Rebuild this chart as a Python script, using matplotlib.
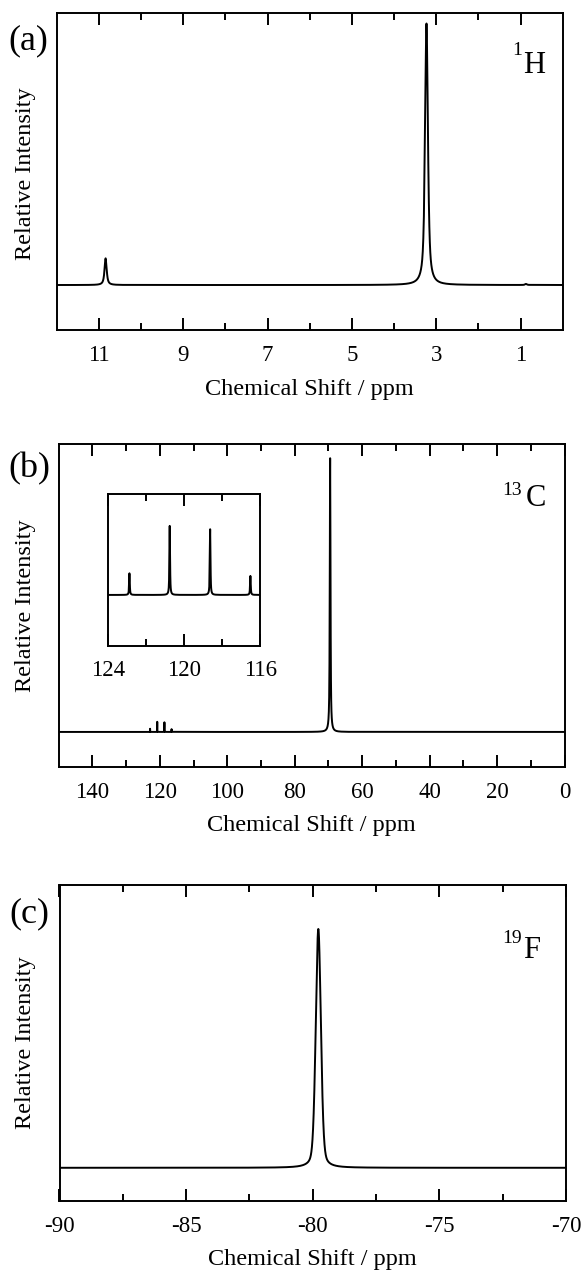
import numpy as np
import matplotlib
matplotlib.use('Agg')
import matplotlib.pyplot as plt

plt.rcParams['font.family'] = ['Liberation Serif', 'DejaVu Serif']

# ---------------- data ----------------
# 1H spectrum: peak positions (ppm), relative heights, line widths (ppm), Lorentzian fraction
h_pos = [10.84, 3.23, 0.87]
h_height = [0.102, 1.0, 0.004]
h_fwhm = [0.06, 0.08, 0.05]
h_lfrac = [0.8, 0.7, 0.8]
h_xlim = (12, 0)
h_major = [11, 9, 7, 5, 3, 1]
h_minor = [10, 8, 6, 4, 2]

# 13C spectrum
c_pos = [122.88, 120.76, 118.63, 116.51, 69.5]
c_height = [0.0116, 0.037, 0.0352, 0.0102, 1.0]
c_fwhm = [0.04, 0.04, 0.04, 0.04, 0.25]
c_lfrac = [0.8, 0.8, 0.8, 0.8, 0.8]
c_xlim = (150, 0)
c_major = [140, 120, 100, 80, 60, 40, 20, 0]
c_minor = [130, 110, 90, 70, 50, 30, 10]
c_inset_xlim = (124, 116)
c_inset_major = [124, 120, 116]
c_inset_minor = [122, 118]

# 19F spectrum
f_pos = [-79.78]
f_height = [1.0]
f_fwhm = [0.24]
f_lfrac = [0.3]
f_xlim = (-90, -70)
f_major = [-90, -85, -80, -75, -70]
f_minor = [-87.5, -82.5, -77.5, -72.5]


def spectrum(x, pos, height, fwhm, lfrac):
    """Pseudo-Voigt line shapes built from the read peak parameters."""
    y = np.zeros_like(x)
    for p, h, w, eta in zip(pos, height, fwhm, lfrac):
        d = (x - p) / (w / 2.0)
        lor = 1.0 / (1.0 + d ** 2)
        gau = np.exp(-np.log(2.0) * d ** 2)
        y += h * (eta * lor + (1 - eta) * gau)
    return y


W, H = 586, 1271
fig = plt.figure(figsize=(W / 100, H / 100), dpi=100)


def ax_px(l, t, r, b):
    return fig.add_axes([l / W, 1 - b / H, (r - l) / W, (b - t) / H])


def style(ax, major, minor, xlim, ylim, pad=11):
    ax.set_xlim(*xlim)
    ax.set_ylim(*ylim)
    ax.set_xticks(major)
    ax.set_xticks(minor, minor=True)
    ax.set_yticks([])
    for s in ax.spines.values():
        s.set_linewidth(1.4)
    ax.tick_params(axis='x', which='both', direction='in', top=True, bottom=True,
                   width=1.4, labelsize=16.5, pad=pad)
    ax.tick_params(axis='x', which='major', length=8.6)
    ax.tick_params(axis='x', which='minor', length=5)
    ax.set_xticklabels([f"{v:g}" for v in major])


def ftext(x, y, s, **kw):
    fig.text(x / W, 1 - y / H, s, **kw)


LW = 1.4

# ---------------- panel (a) ----------------
xa = np.linspace(0, 12, 24001)
ya = spectrum(xa, h_pos, h_height, h_fwhm, h_lfrac)
axa = ax_px(56.7, 13.3, 562.7, 330)
axa.plot(xa, ya, color='black', lw=LW)
style(axa, h_major, h_minor, h_xlim, (-0.172, 1.039))

# ---------------- panel (b) ----------------
xb = np.linspace(0, 150, 150001)
yb = spectrum(xb, c_pos, c_height, c_fwhm, c_lfrac)
axb = ax_px(58.6, 444, 564.6, 766.7)
axb.plot(xb, yb, color='black', lw=LW)
style(axb, c_major, c_minor, c_xlim, (-0.127, 1.052))

axi = ax_px(108.2, 494, 260.1, 645.7)
axi.plot(xb, yb, color='black', lw=LW)
style(axi, c_inset_major, c_inset_minor, c_inset_xlim, (-0.0272, 0.0541), pad=10)

# ---------------- panel (c) ----------------
xc = np.linspace(-90, -70, 20001)
yc = spectrum(xc, f_pos, f_height, f_fwhm, f_lfrac)
axc = ax_px(59.5, 885, 566, 1201)
axc.plot(xc, yc, color='black', lw=LW)
style(axc, f_major, f_minor, f_xlim, (-0.139, 1.184))

# ---------------- text ----------------
ftext(28, 41, '(a)', fontsize=26, ha='center', va='center')
ftext(29.5, 469, '(b)', fontsize=26, ha='center', va='center')
ftext(29, 914, '(c)', fontsize=26, ha='center', va='center')

for cy in [174, 605.5, 1043]:
    ftext(26, cy, 'Relative Intensity', fontsize=17.5, rotation=90,
          ha='center', va='center')

for cx, by in [(309.7, 395), (311.6, 831), (312.8, 1265)]:
    ftext(cx, by, 'Chemical Shift / ppm', fontsize=17.5, ha='center', va='baseline')

# isotope labels
ftext(545, 73.3, 'H', fontsize=22, ha='right', va='baseline')
ftext(522, 55, '1', fontsize=14, ha='right', va='baseline')
ftext(546, 506.5, 'C', fontsize=22, ha='right', va='baseline')
ftext(522, 495, '13', fontsize=14, ha='right', va='baseline')
ftext(540, 958, 'F', fontsize=22, ha='right', va='baseline')
ftext(522, 943, '19', fontsize=14, ha='right', va='baseline')

fig.savefig('out.png', dpi=100)
